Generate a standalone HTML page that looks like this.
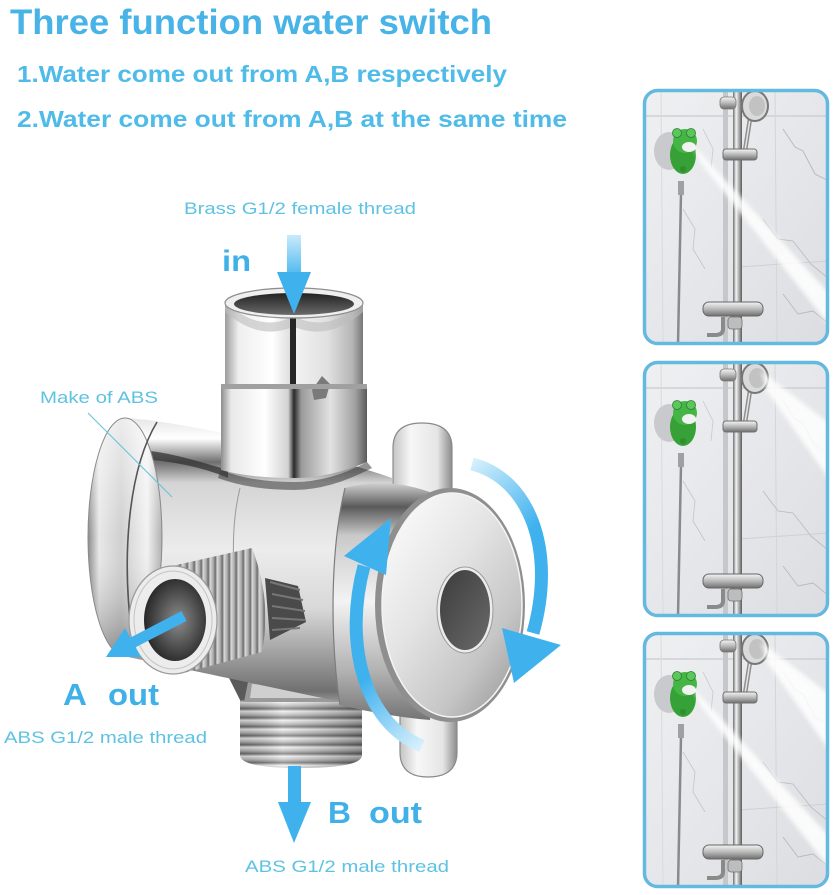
<!DOCTYPE html>
<html><head><meta charset="utf-8">
<style>
html,body{margin:0;padding:0;background:#fff;}
svg{display:block;}
text{font-family:"Liberation Sans",Arial,sans-serif;}
</style></head><body>
<svg width="835" height="895" viewBox="0 0 835 895" xmlns="http://www.w3.org/2000/svg" xmlns:xlink="http://www.w3.org/1999/xlink">
<defs>
  <linearGradient id="bodyG" x1="0" y1="0" x2="0" y2="1">
    <stop offset="0" stop-color="#e6e6e6"/>
    <stop offset="0.07" stop-color="#ffffff"/>
    <stop offset="0.15" stop-color="#6f6f6f"/>
    <stop offset="0.22" stop-color="#d4d4d4"/>
    <stop offset="0.45" stop-color="#ececec"/>
    <stop offset="0.65" stop-color="#d8d8d8"/>
    <stop offset="0.82" stop-color="#9a9a9a"/>
    <stop offset="0.93" stop-color="#707070"/>
    <stop offset="1" stop-color="#bdbdbd"/>
  </linearGradient>
  <linearGradient id="capG" x1="0" y1="0" x2="1" y2="0">
    <stop offset="0" stop-color="#8a8a8a"/>
    <stop offset="0.15" stop-color="#e8e8e8"/>
    <stop offset="0.45" stop-color="#cfcfcf"/>
    <stop offset="0.8" stop-color="#f2f2f2"/>
    <stop offset="1" stop-color="#b0b0b0"/>
  </linearGradient>
  <linearGradient id="capV" x1="0" y1="0" x2="0" y2="1">
    <stop offset="0" stop-color="#ffffff" stop-opacity="0.6"/>
    <stop offset="0.5" stop-color="#ffffff" stop-opacity="0"/>
    <stop offset="1" stop-color="#000000" stop-opacity="0.35"/>
  </linearGradient>
  <linearGradient id="collarG" x1="0" y1="0" x2="1" y2="0">
    <stop offset="0" stop-color="#8d8d8d"/>
    <stop offset="0.07" stop-color="#e9e9e9"/>
    <stop offset="0.3" stop-color="#ffffff"/>
    <stop offset="0.46" stop-color="#d2d2d2"/>
    <stop offset="0.5" stop-color="#2a2a2a"/>
    <stop offset="0.55" stop-color="#9b9b9b"/>
    <stop offset="0.75" stop-color="#e2e2e2"/>
    <stop offset="0.92" stop-color="#a0a0a0"/>
    <stop offset="1" stop-color="#5a5a5a"/>
  </linearGradient>
  <linearGradient id="hexL" x1="0" y1="0" x2="1" y2="0">
    <stop offset="0" stop-color="#9c9c9c"/>
    <stop offset="0.2" stop-color="#efefef"/>
    <stop offset="0.7" stop-color="#ffffff"/>
    <stop offset="1" stop-color="#d9d9d9"/>
  </linearGradient>
  <linearGradient id="hexR" x1="0" y1="0" x2="1" y2="0">
    <stop offset="0" stop-color="#f4f4f4"/>
    <stop offset="0.5" stop-color="#e0e0e0"/>
    <stop offset="0.85" stop-color="#b5b5b5"/>
    <stop offset="1" stop-color="#777"/>
  </linearGradient>
  <linearGradient id="holeTop" x1="0" y1="0" x2="0" y2="1">
    <stop offset="0" stop-color="#222"/>
    <stop offset="1" stop-color="#6a6a6a"/>
  </linearGradient>
  <radialGradient id="holeA" cx="0.55" cy="0.5" r="0.6">
    <stop offset="0" stop-color="#8c8c8c"/>
    <stop offset="0.6" stop-color="#4a4a4a"/>
    <stop offset="1" stop-color="#1e1e1e"/>
  </radialGradient>
  <linearGradient id="threadX" gradientUnits="userSpaceOnUse" x1="0" y1="0" x2="7" y2="0" spreadMethod="repeat">
    <stop offset="0" stop-color="#eeeeee"/>
    <stop offset="0.45" stop-color="#bdbdbd"/>
    <stop offset="0.75" stop-color="#777"/>
    <stop offset="1" stop-color="#dcdcdc"/>
  </linearGradient>
  <linearGradient id="threadY" gradientUnits="userSpaceOnUse" x1="0" y1="0" x2="0" y2="9" spreadMethod="repeat">
    <stop offset="0" stop-color="#f2f2f2"/>
    <stop offset="0.4" stop-color="#bbbbbb"/>
    <stop offset="0.75" stop-color="#6e6e6e"/>
    <stop offset="1" stop-color="#e0e0e0"/>
  </linearGradient>
  <linearGradient id="shadeX" x1="0" y1="0" x2="1" y2="0">
    <stop offset="0" stop-color="#000" stop-opacity="0.15"/>
    <stop offset="0.35" stop-color="#fff" stop-opacity="0.25"/>
    <stop offset="1" stop-color="#000" stop-opacity="0.3"/>
  </linearGradient>
  <linearGradient id="skirtG" x1="0" y1="0" x2="0" y2="1">
    <stop offset="0" stop-color="#d0d0d0"/>
    <stop offset="0.1" stop-color="#5a5a5a"/>
    <stop offset="0.22" stop-color="#c9c9c9"/>
    <stop offset="0.5" stop-color="#f3f3f3"/>
    <stop offset="0.8" stop-color="#b0b0b0"/>
    <stop offset="1" stop-color="#747474"/>
  </linearGradient>
  <linearGradient id="discG" x1="0.1" y1="0.05" x2="0.9" y2="0.95">
    <stop offset="0" stop-color="#fbfbfb"/>
    <stop offset="0.4" stop-color="#e4e4e4"/>
    <stop offset="0.75" stop-color="#c6c6c6"/>
    <stop offset="1" stop-color="#9e9e9e"/>
  </linearGradient>
  <linearGradient id="tabG" x1="0" y1="0" x2="1" y2="0">
    <stop offset="0" stop-color="#c4c4c4"/>
    <stop offset="0.3" stop-color="#f7f7f7"/>
    <stop offset="0.75" stop-color="#e5e5e5"/>
    <stop offset="1" stop-color="#8c8c8c"/>
  </linearGradient>
  <linearGradient id="btnG" x1="0" y1="0" x2="1" y2="1">
    <stop offset="0" stop-color="#3c3c3c"/>
    <stop offset="1" stop-color="#6a6a6a"/>
  </linearGradient>
  <linearGradient id="inArrow" x1="0" y1="235" x2="0" y2="280" gradientUnits="userSpaceOnUse">
    <stop offset="0" stop-color="#c9ebfb"/>
    <stop offset="1" stop-color="#3fb2ee"/>
  </linearGradient>
  <linearGradient id="rotR" gradientUnits="userSpaceOnUse" x1="470" y1="462" x2="530" y2="530">
    <stop offset="0" stop-color="#d8f0fc"/>
    <stop offset="1" stop-color="#3fb2ee"/>
  </linearGradient>
  <linearGradient id="rotL" gradientUnits="userSpaceOnUse" x1="422" y1="746" x2="365" y2="680">
    <stop offset="0" stop-color="#d8f0fc"/>
    <stop offset="1" stop-color="#3fb2ee"/>
  </linearGradient>
  <linearGradient id="wallG" x1="0" y1="0" x2="1" y2="1">
    <stop offset="0" stop-color="#eff0f2"/>
    <stop offset="0.5" stop-color="#e6e7ea"/>
    <stop offset="1" stop-color="#dcdde1"/>
  </linearGradient>
  <linearGradient id="railG" x1="0" y1="0" x2="1" y2="0">
    <stop offset="0" stop-color="#6d6d6d"/>
    <stop offset="0.35" stop-color="#f4f4f4"/>
    <stop offset="0.7" stop-color="#a5a5a5"/>
    <stop offset="1" stop-color="#5a5a5a"/>
  </linearGradient>
  <linearGradient id="chromeV" x1="0" y1="0" x2="0" y2="1">
    <stop offset="0" stop-color="#f5f5f5"/>
    <stop offset="0.5" stop-color="#b9b9b9"/>
    <stop offset="1" stop-color="#6e6e6e"/>
  </linearGradient>
  <filter id="blur2" x="-20%" y="-20%" width="140%" height="140%"><feGaussianBlur stdDeviation="2.2"/></filter>
  <clipPath id="pclip"><rect x="0" y="0" width="186" height="256" rx="14"/></clipPath>

  <g id="scene">
    <rect x="0" y="0" width="186" height="256" fill="url(#wallG)"/>
    <line x1="0" y1="27" x2="186" y2="27" stroke="#c9cacd" stroke-width="1.2"/>
    <line x1="95" y1="178" x2="186" y2="172" stroke="#cfd0d3" stroke-width="1"/>
    <line x1="132" y1="0" x2="134" y2="256" stroke="#d4d5d8" stroke-width="1"/>
    <line x1="18" y1="0" x2="20" y2="256" stroke="#d9dadc" stroke-width="1"/>
    <polyline points="140,40 152,58 160,62 172,85 186,92" fill="none" stroke="#b6b7bb" stroke-width="0.9"/>
    <polyline points="120,130 135,150 150,152 168,175 186,190" fill="none" stroke="#bdbec2" stroke-width="0.9"/>
    <polyline points="40,120 52,140 50,160 62,180" fill="none" stroke="#c3c4c8" stroke-width="0.8"/>
    <polyline points="140,205 155,225 170,222 186,235" fill="none" stroke="#b9babe" stroke-width="0.9"/>
    <polyline points="60,40 70,60 68,80" fill="none" stroke="#c7c8cb" stroke-width="0.8"/>
    <rect x="80" y="0" width="5" height="256" fill="#c6c7ca"/>
    <rect x="90" y="0" width="9" height="256" fill="url(#railG)"/>
    <rect x="77" y="8" width="16" height="12" rx="4" fill="url(#chromeV)" stroke="#7a7a7a" stroke-width="0.8"/>
    <path d="M107 30 L101 68" stroke="#8f8f8f" stroke-width="4.5" fill="none"/>
    <path d="M107 30 L101 68" stroke="#e5e5e5" stroke-width="1.5" fill="none"/>
    <ellipse cx="112" cy="17" rx="13" ry="15" fill="#dadada" stroke="#777" stroke-width="2"/>
    <ellipse cx="114" cy="17" rx="8" ry="10" fill="#c2c2c2"/>
    <rect x="80" y="60" width="34" height="11" rx="3" fill="url(#chromeV)" stroke="#707070" stroke-width="1"/>
    <rect x="60" y="213" width="60" height="14" rx="6" fill="url(#chromeV)" stroke="#666" stroke-width="1"/>
    <path d="M80 228 L80 240 Q80 246 72 246 L64 246" stroke="#8a8a8a" stroke-width="4" fill="none"/>
    <rect x="85" y="228" width="14" height="12" rx="3" fill="#bdbdbd" stroke="#707070" stroke-width="0.8"/>
    <path d="M38 104 L35 256" stroke="#8a8a8a" stroke-width="2.5" fill="none"/>
    <rect x="35" y="92" width="6" height="14" fill="#a0a0a0"/>
    <ellipse cx="26" cy="62" rx="15" ry="19" fill="#c9cacd"/>
    <ellipse cx="40" cy="66" rx="13" ry="19" fill="#36a136"/>
    <circle cx="42" cy="52" r="12" fill="#45b545"/>
    <circle cx="34" cy="44" r="4.5" fill="#5dc55d" stroke="#2b7f2b" stroke-width="0.8"/>
    <circle cx="48" cy="44" r="4.5" fill="#5dc55d" stroke="#2b7f2b" stroke-width="0.8"/>
    <ellipse cx="46" cy="58" rx="7" ry="5" fill="#f2f2f2"/>
    <circle cx="40" cy="80" r="3" fill="#2f8f2f"/>
  </g>
</defs>

<rect width="835" height="895" fill="#fff"/>

<!-- Titles -->
<text x="10" y="34" font-size="35" font-weight="bold" fill="#47b3e6" textLength="482" lengthAdjust="spacingAndGlyphs">Three function water switch</text>
<text x="17" y="82" font-size="23" font-weight="bold" fill="#4fbbe9" textLength="490" lengthAdjust="spacingAndGlyphs">1.Water come out from A,B respectively</text>
<text x="17" y="127" font-size="23" font-weight="bold" fill="#4fbbe9" textLength="550" lengthAdjust="spacingAndGlyphs">2.Water come out from A,B at the same time</text>

<!-- labels -->
<text x="184" y="214" font-size="17" fill="#5ec2e2" textLength="232" lengthAdjust="spacingAndGlyphs">Brass G1/2 female thread</text>
<text x="222" y="271" font-size="30" font-weight="bold" fill="#3fb0e8" textLength="29" lengthAdjust="spacingAndGlyphs">in</text>
<text x="40" y="403" font-size="17" fill="#5ec2e2" textLength="118" lengthAdjust="spacingAndGlyphs">Make of ABS</text>
<text x="63" y="705" font-size="31" font-weight="bold" fill="#3fb0e8" textLength="24" lengthAdjust="spacingAndGlyphs">A</text>
<text x="108" y="705" font-size="31" font-weight="bold" fill="#3fb0e8" textLength="51" lengthAdjust="spacingAndGlyphs">out</text>
<text x="4" y="743" font-size="17" fill="#5ec2e2" textLength="203" lengthAdjust="spacingAndGlyphs">ABS G1/2 male thread</text>
<text x="328" y="823" font-size="31" font-weight="bold" fill="#3fb0e8" textLength="23" lengthAdjust="spacingAndGlyphs">B</text>
<text x="369" y="823" font-size="31" font-weight="bold" fill="#3fb0e8" textLength="53" lengthAdjust="spacingAndGlyphs">out</text>
<text x="245" y="872" font-size="17" fill="#5ec2e2" textLength="204" lengthAdjust="spacingAndGlyphs">ABS G1/2 male thread</text>

<!-- ===== Valve ===== -->
<!-- bottom B outlet -->
<path d="M228 676 L372 690 L362 704 L240 700 Z" fill="#5a5a5a"/>
<path d="M240 700 L362 700 L362 755 Q362 768 300 768 Q240 768 240 755 Z" fill="url(#threadY)"/>
<path d="M240 700 L362 700 L362 755 Q362 768 300 768 Q240 768 240 755 Z" fill="url(#shadeX)"/>
<path d="M248 682 L335 686 L348 702 L244 702 Z" fill="#9a9a9a"/>
<path d="M252 684 L320 688 L326 698 L250 698 Z" fill="#cfcfcf"/>

<!-- main body -->
<path d="M128 418 C200 424 330 456 392 478 L392 712 C330 700 200 672 128 657 A38 120 0 0 1 128 418 Z" fill="url(#bodyG)"/>
<path d="M150 460 C180 462 210 470 228 478 L228 470 C200 462 170 452 140 450 Z" fill="#2e2e2e" opacity="0.7"/>
<!-- left cap -->
<ellipse cx="125" cy="537" rx="37" ry="119" fill="url(#capG)"/>
<ellipse cx="125" cy="537" rx="37" ry="119" fill="url(#capV)"/>
<ellipse cx="125" cy="537" rx="37" ry="119" fill="none" stroke="#8a8a8a" stroke-width="1"/>
<path d="M157 422 C128 470 120 560 134 650" fill="none" stroke="#555" stroke-width="1.6"/>
<path d="M240 488 C232 520 232 560 236 590" fill="none" stroke="#9a9a9a" stroke-width="1"/>

<!-- collar -->
<path d="M221 386 L367 386 L367 462 Q330 478 294 478 Q250 478 221 470 Z" fill="url(#collarG)"/>
<path d="M221 470 Q250 482 294 482 Q330 482 367 462 L372 468 Q330 490 294 490 Q250 490 218 478 Z" fill="#3a3a3a" opacity="0.55"/>
<!-- hex nut -->
<path d="M225 302 L293 302 L293 387 L225 387 Z" fill="url(#hexL)"/>
<path d="M293 302 L363 302 L363 387 L293 387 Z" fill="url(#hexR)"/>
<path d="M225 302 Q258 332 290 318 L298 318 Q330 332 363 302 L363 312 Q330 340 297 328 L290 328 Q258 340 225 312 Z" fill="#bcbcbc" opacity="0.6"/>
<rect x="290" y="318" width="6" height="69" fill="#262626"/>
<path d="M312 390 L322 376 L330 384 L326 398 L314 400 Z" fill="#7a7a7a"/>
<rect x="221" y="384" width="146" height="5" fill="#a0a0a0"/>
<ellipse cx="294" cy="303" rx="69" ry="15" fill="#efefef" stroke="#8f8f8f" stroke-width="1.2"/>
<ellipse cx="294" cy="304" rx="60" ry="11" fill="url(#holeTop)"/>

<!-- knob tabs -->
<path d="M393 505 L393 448 Q393 423 422 423 Q452 423 452 448 L452 505 Z" fill="url(#tabG)" stroke="#8a8a8a" stroke-width="1.2"/>
<path d="M400 712 L400 752 Q400 777 428 777 Q457 777 457 752 L457 712 Z" fill="url(#tabG)" stroke="#8a8a8a" stroke-width="1.2"/>
<!-- knob skirt -->
<path d="M345 488 Q390 476 435 494 L430 720 Q385 716 340 705 C330 640 330 550 345 488 Z" fill="url(#skirtG)"/>
<path d="M345 488 C330 550 330 640 340 705" fill="none" stroke="#7d7d7d" stroke-width="1.2"/>
<!-- disc -->
<ellipse cx="450" cy="605" rx="75" ry="117" fill="#8f8f8f"/>
<ellipse cx="452" cy="605" rx="70" ry="112" fill="url(#discG)"/>
<ellipse cx="452" cy="605" rx="70" ry="112" fill="none" stroke="#f4f4f4" stroke-width="1.5"/>
<ellipse cx="465" cy="610" rx="28" ry="43" fill="#ececec" stroke="#9a9a9a" stroke-width="1"/>
<ellipse cx="465" cy="610" rx="25" ry="40" fill="url(#btnG)"/>

<!-- hidden dark thread -->
<path d="M265 578 L298 586 L306 622 L270 640 Z" fill="#4a4a4a"/>
<path d="M270 582 L300 590 M272 594 L303 600 M272 606 L305 611 M272 618 L305 620 M272 630 L300 628" stroke="#777" stroke-width="2"/>
<!-- A threaded nipple -->
<path d="M172 566 L252 548 Q272 600 262 652 L180 674 Z" fill="url(#threadX)"/>
<path d="M172 566 L252 548 Q272 600 262 652 L180 674 Z" fill="#000" opacity="0.08"/>
<ellipse cx="173" cy="620" rx="44" ry="54" fill="#ececec" stroke="#9a9a9a" stroke-width="1.2"/>
<ellipse cx="173" cy="620" rx="39" ry="49" fill="none" stroke="#c4c4c4" stroke-width="1"/>
<ellipse cx="175" cy="620" rx="31" ry="41" fill="url(#holeA)"/>

<!-- ===== Arrows ===== -->
<rect x="287" y="235" width="14" height="40" fill="url(#inArrow)"/>
<polygon points="277,272 311,272 294,314" fill="#3fb2ee"/>
<rect x="288" y="766" width="13" height="40" fill="#3fb2ee"/>
<polygon points="278,802 311,802 294,843" fill="#3fb2ee"/>
<line x1="184" y1="616" x2="130" y2="644" stroke="#3fb2ee" stroke-width="11"/>
<polygon points="106,657 125,628 141,657" fill="#3fb2ee"/>
<path d="M472 464 C528 478 557 548 533 633" fill="none" stroke="url(#rotR)" stroke-width="13"/>
<polygon points="514,683 502,628 561,645" fill="#3fb2ee"/>
<path d="M422 746 C362 722 344 640 364 566" fill="none" stroke="url(#rotL)" stroke-width="13"/>
<polygon points="391,518 344,556 386,575" fill="#3fb2ee"/>

<!-- leader line -->
<line x1="88" y1="413" x2="172" y2="497" stroke="#69c0de" stroke-width="1.1"/>

<!-- ===== Right panels ===== -->
<g transform="translate(643,89)">
  <g clip-path="url(#pclip)">
    <use xlink:href="#scene"/>
    <polygon points="50,56 58,74 186,236 186,204" fill="#ffffff" opacity="0.85" filter="url(#blur2)"/>
  </g>
  <rect x="1.5" y="1.5" width="183" height="253" rx="13" fill="none" stroke="#64b9e1" stroke-width="3.5"/>
</g>
<g transform="translate(643,361)">
  <g clip-path="url(#pclip)">
    <use xlink:href="#scene"/>
    <polygon points="118,10 124,30 186,118 186,62" fill="#ffffff" opacity="0.85" filter="url(#blur2)"/>
  </g>
  <rect x="1.5" y="1.5" width="183" height="253" rx="13" fill="none" stroke="#64b9e1" stroke-width="3.5"/>
</g>
<g transform="translate(643,632)">
  <g clip-path="url(#pclip)">
    <use xlink:href="#scene"/>
    <polygon points="50,56 58,74 186,236 186,204" fill="#ffffff" opacity="0.85" filter="url(#blur2)"/>
    <polygon points="118,10 124,30 186,118 186,62" fill="#ffffff" opacity="0.85" filter="url(#blur2)"/>
  </g>
  <rect x="1.5" y="1.5" width="183" height="253" rx="13" fill="none" stroke="#64b9e1" stroke-width="3.5"/>
</g>
</svg>
</body></html>
